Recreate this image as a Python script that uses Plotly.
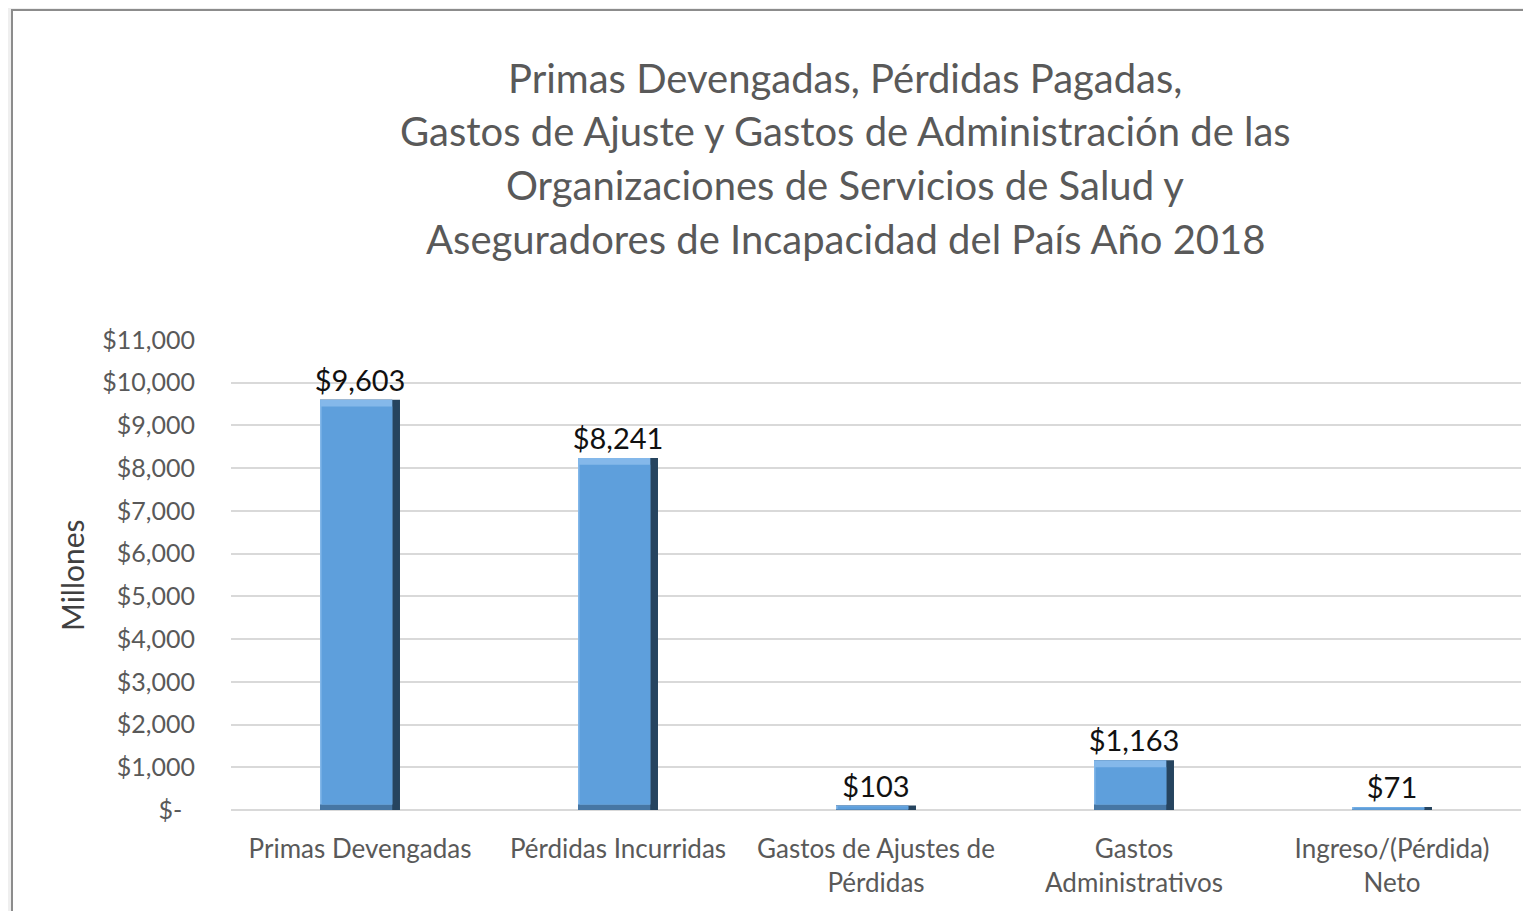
import plotly.graph_objects as go

categories = ["Primas Devengadas", "Pérdidas Incurridas", "Gastos de Ajustes de<br>Pérdidas",
              "Gastos<br>Administrativos", "Ingreso/(Pérdida)<br>Neto"]
values = [9603, 8241, 103, 1163, 71]
tick_values = [0, 1000, 2000, 3000, 4000, 5000, 6000, 7000, 8000, 9000, 10000, 11000]
tick_labels = ["$-\u00a0\u00a0", "$1,000", "$2,000", "$3,000", "$4,000", "$5,000", "$6,000",
               "$7,000", "$8,000", "$9,000", "$10,000", "$11,000"]
title_lines = ["Primas Devengadas, Pérdidas Pagadas,",
               "Gastos de Ajuste y Gastos de Administración de las",
               "Organizaciones de Servicios de Salud y",
               "Aseguradores de Incapacidad del País Año 2018"]

FONT = "Lato, 'Open Sans', sans-serif"

# bevel effect built from the same values
BW = 0.31
EX = 0.030
EYT = 160
EYB = 130
bev_b = [min(EYB, v * 0.15) for v in values]
bev_t = [min(EYT, v * 0.15) for v in values]

fig = go.Figure()
# dark shell (right edge) + labels
fig.add_trace(go.Bar(
    x=categories, y=values, width=BW,
    marker=dict(color="#26445F", line=dict(width=0)),
    texttemplate="$%{y:,.0f}", textposition="outside", cliponaxis=False,
    constraintext="none",
    textfont=dict(family=FONT, size=29, color="#111111"),
))
# bottom bevel
fig.add_trace(go.Bar(
    x=categories, y=values, width=BW - EX, offset=-BW / 2,
    marker=dict(color="#4676A4", line=dict(width=0)), hoverinfo="skip",
))
# top highlight
fig.add_trace(go.Bar(
    x=categories, y=[v - b for v, b in zip(values, bev_b)], base=bev_b,
    width=BW - EX, offset=-BW / 2,
    marker=dict(color="#84B8EA", line=dict(width=0)), hoverinfo="skip",
))
# main face
fig.add_trace(go.Bar(
    x=categories, y=[v - b - t for v, b, t in zip(values, bev_b, bev_t)], base=bev_b,
    width=BW - EX - 0.006, offset=-BW / 2 + 0.006,
    marker=dict(color="#5E9FDC", line=dict(width=0)), hoverinfo="skip",
))

OFF = 8  # default page body margin
L, R, T, B = 231 - OFF, 10, 340 - OFF, 101
W, H = 1531 - OFF, 911 - OFF
pw, ph = W - L - R, H - T - B

def px_x(x):
    return (x - OFF - L) / pw

def px_y(y):
    return (H - B - (y - OFF)) / ph

shapes = [dict(type="rect", xref="paper", yref="paper", layer="below",
               x0=px_x(12), x1=px_x(1560), y0=px_y(940), y1=px_y(10),
               fillcolor="white", line=dict(color="#8c8c8c", width=2))]

annotations = []
for yc, line in zip([78, 131, 185, 239], title_lines):
    annotations.append(dict(text=line, xref="paper", yref="paper", x=px_x(845), y=px_y(yc),
                            xanchor="center", yanchor="middle", showarrow=False,
                            font=dict(family=FONT, size=40, color="#595959")))
annotations.append(dict(text="Millones", xref="paper", yref="paper", x=px_x(72), y=px_y(575),
                        xanchor="center", yanchor="middle", textangle=-90, showarrow=False,
                        font=dict(family=FONT, size=30, color="#404040")))

fig.update_layout(
    width=W, height=H,
    margin=dict(l=L, r=R, t=T, b=B, autoexpand=False),
    paper_bgcolor="#efefef", plot_bgcolor="rgba(0,0,0,0)",
    showlegend=False, shapes=shapes, annotations=annotations,
    barmode="overlay",
    font=dict(family=FONT),
)
fig.update_yaxes(range=[0, 11000], tickvals=tick_values, ticktext=tick_labels,
                 showgrid=True, gridcolor="#d9d9d9", gridwidth=2,
                 zeroline=True, zerolinecolor="#d9d9d9", zerolinewidth=2,
                 ticks="outside", ticklen=30, tickcolor="rgba(0,0,0,0)",
                 tickfont=dict(family=FONT, size=25, color="#595959"), showline=False)
fig.update_xaxes(showgrid=False, showline=False, ticks="outside", ticklen=16,
                 tickcolor="rgba(0,0,0,0)",
                 tickfont=dict(family=FONT, size=26, color="#595959"))

fig.write_html("out.html")
